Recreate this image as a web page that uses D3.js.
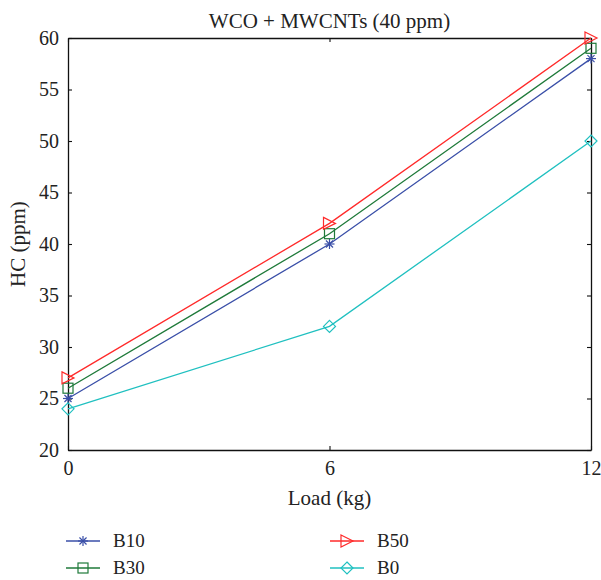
<!DOCTYPE html>
<html>
<head>
<meta charset="utf-8">
<script src="https://cdn.jsdelivr.net/npm/d3@7"></script>
<style>
  html, body { margin: 0; padding: 0; background: #fff; }
  svg text { font-family: "Liberation Serif", "DejaVu Serif", serif; fill: #222; }
</style>
</head>
<body>
<svg id="chart" width="601" height="580"></svg>
<script>
// Engine load (kg) on the x axis
const loads = [0, 6, 12];
// HC emissions (ppm) per blend
const b10 = [25, 40, 58];
const b30 = [26, 41, 59];
const b50 = [27, 42, 60];
const b0  = [24, 32, 50];
const xTicks = [0, 6, 12];
const yTicks = [20, 25, 30, 35, 40, 45, 50, 55, 60];

const series = [
  { name: "B10", values: b10, color: "#3a4fa8", symbol: "star" },
  { name: "B30", values: b30, color: "#1f7a3a", symbol: "square" },
  { name: "B50", values: b50, color: "#ff2a2a", symbol: "triangle" },
  { name: "B0",  values: b0,  color: "#20c0c0", symbol: "diamond" }
];

const svg = d3.select("#chart");
const m = { left: 68, right: 591, top: 38, bottom: 450 };

const x = d3.scaleLinear().domain([0, 12]).range([m.left, m.right]);
const y = d3.scaleLinear().domain([20, 60]).range([m.bottom, m.top]);

// Axis box with inward ticks on all four sides
const axisStyle = g => {
  g.select(".domain").attr("stroke", "#111").attr("stroke-width", 1.3);
  g.selectAll(".tick line").attr("stroke", "#111").attr("stroke-width", 1.1);
  g.selectAll(".tick text").style("font-size", "20px").attr("fill", "#222");
};

svg.append("g")
  .attr("transform", `translate(0,${m.bottom})`)
  .call(d3.axisBottom(x).tickValues(xTicks).tickSizeInner(-4).tickSizeOuter(0).tickPadding(9))
  .call(axisStyle)
  .call(g => g.selectAll(".tick text").attr("dy", "0.8em"));

svg.append("g")
  .attr("transform", `translate(0,${m.top})`)
  .call(d3.axisTop(x).tickValues(xTicks).tickSizeInner(-4).tickSizeOuter(0).tickFormat(""))
  .call(axisStyle);

svg.append("g")
  .attr("transform", `translate(${m.left},0)`)
  .call(d3.axisLeft(y).tickValues(yTicks).tickSizeInner(-4).tickSizeOuter(0).tickPadding(9))
  .call(axisStyle);

svg.append("g")
  .attr("transform", `translate(${m.right},0)`)
  .call(d3.axisRight(y).tickValues(yTicks).tickSizeInner(-4).tickSizeOuter(0).tickFormat(""))
  .call(axisStyle);

// Titles
svg.append("text")
  .attr("x", (m.left + m.right) / 2).attr("y", 28)
  .attr("text-anchor", "middle").style("font-size", "21px")
  .text("WCO + MWCNTs (40 ppm)");

svg.append("text")
  .attr("x", (m.left + m.right) / 2).attr("y", 505)
  .attr("text-anchor", "middle").style("font-size", "21px")
  .text("Load (kg)");

svg.append("text")
  .attr("transform", `translate(25,${(m.top + m.bottom) / 2}) rotate(-90)`)
  .attr("text-anchor", "middle").style("font-size", "21px")
  .text("HC (ppm)");

// Marker drawing
function drawMarker(g, sym, cx, cy, color) {
  if (sym === "star") {
    const r = 5;
    const p = g.append("g").attr("stroke", color).attr("stroke-width", 1.2);
    [0, 45, 90, 135].forEach(a => {
      const rad = a * Math.PI / 180;
      p.append("line")
        .attr("x1", cx - r * Math.cos(rad)).attr("y1", cy - r * Math.sin(rad))
        .attr("x2", cx + r * Math.cos(rad)).attr("y2", cy + r * Math.sin(rad));
    });
  } else if (sym === "square") {
    const s = 10;
    g.append("rect").attr("x", cx - s / 2).attr("y", cy - s / 2)
      .attr("width", s).attr("height", s)
      .attr("fill", "none").attr("stroke", color).attr("stroke-width", 1.2);
  } else if (sym === "triangle") {
    const h = 6;
    g.append("path")
      .attr("d", `M${cx - h},${cy - h} L${cx + h},${cy} L${cx - h},${cy + h} Z`)
      .attr("fill", "none").attr("stroke", color).attr("stroke-width", 1.2);
  } else if (sym === "diamond") {
    const h = 6;
    g.append("path")
      .attr("d", `M${cx},${cy - h} L${cx + h},${cy} L${cx},${cy + h} L${cx - h},${cy} Z`)
      .attr("fill", "none").attr("stroke", color).attr("stroke-width", 1.2);
  }
}

const line = d3.line().x(d => x(d[0])).y(d => y(d[1]));

series.forEach(s => {
  const pts = loads.map((l, i) => [l, s.values[i]]);
  const g = svg.append("g");
  g.append("path").attr("d", line(pts))
    .attr("fill", "none").attr("stroke", s.color).attr("stroke-width", 1.3);
  pts.forEach(p => drawMarker(g, s.symbol, x(p[0]), y(p[1]), s.color));
});

// Legend in two columns
const legendPos = [
  { col: 0, row: 0 }, { col: 0, row: 1 }, { col: 1, row: 0 }, { col: 1, row: 1 }
];
series.forEach((s, i) => {
  const lx = 66 + legendPos[i].col * 264;
  const ly = 541 + legendPos[i].row * 27;
  const g = svg.append("g");
  g.append("line").attr("x1", lx).attr("x2", lx + 34).attr("y1", ly).attr("y2", ly)
    .attr("stroke", s.color).attr("stroke-width", 1.3);
  drawMarker(g, s.symbol, lx + 17, ly, s.color);
  g.append("text").attr("x", lx + 47).attr("y", ly + 6)
    .style("font-size", "19px").text(s.name);
});
</script>
</body>
</html>
